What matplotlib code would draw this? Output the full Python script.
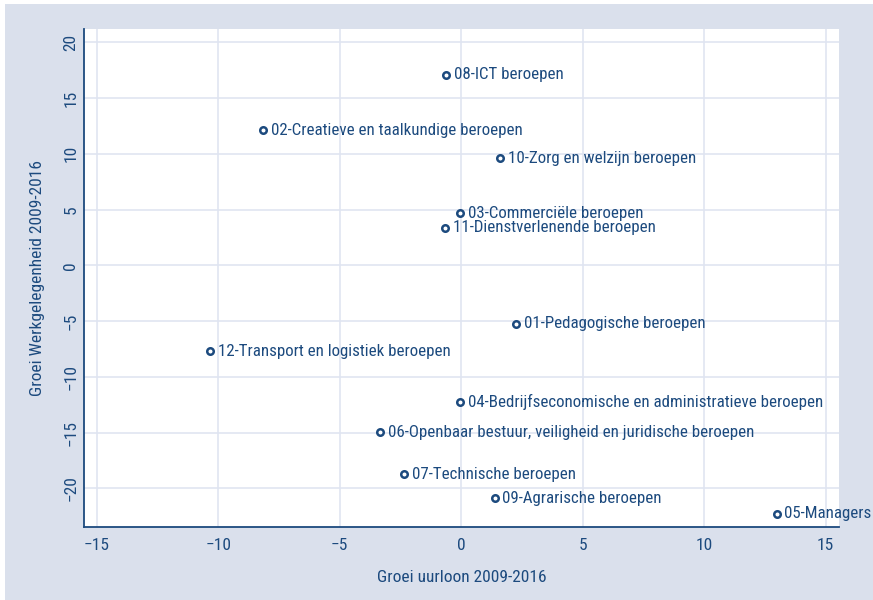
import matplotlib
matplotlib.use("Agg")
import matplotlib.pyplot as plt
from matplotlib.patches import Rectangle
from matplotlib import font_manager

labels = ["08-ICT beroepen", "02-Creatieve en taalkundige beroepen", "10-Zorg en welzijn beroepen",
          "03-Commerciële beroepen", "11-Dienstverlenende beroepen", "01-Pedagogische beroepen",
          "12-Transport en logistiek beroepen", "04-Bedrijfseconomische en administratieve beroepen",
          "06-Openbaar bestuur, veiligheid en juridische beroepen", "07-Technische beroepen",
          "09-Agrarische beroepen", "05-Managers"]
loon = [-0.63, -8.16, 1.59, -0.04, -0.67, 2.25, -10.34, -0.05, -3.35, -2.35, 1.37, 12.98]
werk = [17.07, 12.13, 9.60, 4.66, 3.37, -5.26, -7.69, -12.29, -14.98, -18.74, -20.9, -22.3]
xticks = [-15, -10, -5, 0, 5, 10, 15]
yticks = [-20, -15, -10, -5, 0, 5, 10, 15, 20]

names = {f.name for f in font_manager.fontManager.ttflist}
fam = [f for f in ["Liberation Sans Narrow", "DejaVu Sans Condensed", "Roboto Condensed"] if f in names]
plt.rcParams['font.family'] = fam + ["Liberation Sans", "DejaVu Sans"]

blue = "#1c4a7e"
bg = "#dae0ec"
grid = "#e0e5f1"

fig = plt.figure(figsize=(8.73, 6), dpi=100, facecolor="white")
# light blue panel, white strip on top and left
fig.patches.append(Rectangle((5/873, -0.01), 1, 596/600 + 0.01, transform=fig.transFigure,
                             facecolor=bg, edgecolor="none", zorder=-10))
ax = fig.add_axes([84/873, 73/600, 755/873, 498/600])
ax.set_facecolor("white")
ax.set_xlim(-15.53, 15.55)
ax.set_ylim(-23.47, 21.19)
ax.set_xticks(xticks)
ax.set_yticks(yticks)
ax.grid(True, color=grid, lw=1.2)
ax.set_axisbelow(True)
for s in ["top", "right"]:
    ax.spines[s].set_visible(False)
for s in ["left", "bottom"]:
    ax.spines[s].set_color(blue)
    ax.spines[s].set_linewidth(1.3)
ax.tick_params(length=0, colors=blue, labelsize=12.5)
ax.tick_params(axis="x", pad=8)
ax.tick_params(axis="y", pad=4)
for t in ax.get_yticklabels():
    t.set_rotation(90)
    t.set_va("center")

ax.scatter(loon, werk, s=22, facecolor="white", edgecolor=blue, linewidth=1.8, zorder=3)
for x, y, lab in zip(loon, werk, labels):
    ax.annotate(lab, (x, y), xytext=(5.5, 0), textcoords="offset points", va="center",
                ha="left", color=blue, fontsize=12.2, annotation_clip=False, zorder=4)

ax.set_xlabel("Groei uurloon 2009-2016", color=blue, fontsize=12.5, labelpad=12)
ax.set_ylabel("Groei Werkgelegenheid 2009-2016", color=blue, fontsize=12.5, labelpad=13)

fig.savefig("out.png", dpi=100, facecolor="white")
